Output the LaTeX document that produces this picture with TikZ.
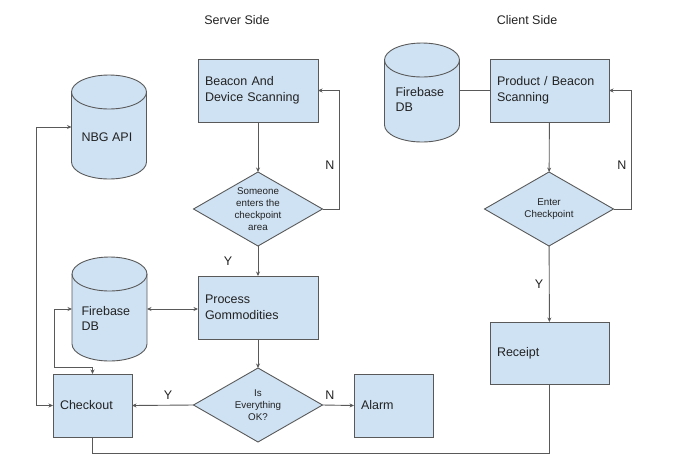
\documentclass[tikz,border=0pt]{standalone}
\usepackage{fontspec}
\setmainfont{Liberation Sans}
\usetikzlibrary{shapes.geometric,arrows.meta}
\definecolor{boxfill}{HTML}{CFE2F3}
\definecolor{edge}{HTML}{595959}
\definecolor{ink}{HTML}{222222}

\tikzset{
  stepbox/.style={draw=edge, fill=boxfill, line width=0.9pt, inner sep=7pt, outer sep=0pt,
    text width=#1, align=left, minimum height=63pt, text=ink,
    font=\fontsize{12.5}{16}\selectfont},
  decision/.style={diamond, draw=edge, fill=boxfill, line width=0.9pt, aspect=1.74,
    inner sep=0pt, outer sep=0pt, minimum width=129pt, minimum height=74pt,
    align=center, text=ink, font=\fontsize{9.8}{12.2}\selectfont},
  dbspot/.style={inner sep=0pt, outer sep=0pt, minimum width=75pt, minimum height=#1},
  dbline/.style={draw=edge, fill=boxfill, line width=0.9pt},
  tag/.style={text=ink, align=left, font=\fontsize{12.5}{15.5}\selectfont},
  >={Stealth[length=4.5pt,width=4pt]},
  flow/.style={draw=edge, line width=0.9pt, ->},
  twoway/.style={draw=edge, line width=0.9pt, <->},
  link/.style={draw=edge, line width=0.9pt}
}

% cylinder drawn round a named spot: name, x radius, y radius
\newcommand{\dbdrum}[3]{%
  \filldraw[dbline] ([yshift=-#3pt]#1.north west) -- ([yshift=#3pt]#1.south west)
    arc[start angle=180, end angle=360, x radius=#2pt, y radius=#3pt]
    -- ([yshift=-#3pt]#1.north east)
    arc[start angle=0, end angle=180, x radius=#2pt, y radius=#3pt] -- cycle;
  \draw[dbline, fill=none] ([yshift=-#3pt]#1.north west)
    arc[start angle=180, end angle=360, x radius=#2pt, y radius=#3pt];
}

\begin{document}
\begin{tikzpicture}[x=1pt, y=-1pt]
  \useasboundingbox (0,0) rectangle (678,475);

  % titles
  \node[tag] (server) at (237,20) {Server Side};
  \node[tag] (client) at (527,20) {Client Side};

  % databases
  \node[dbspot=104pt] (nbg) at (109,127) {};
  \node[dbspot=104pt] (fbleft) at (109.5,309) {};
  \node[dbspot=99pt] (fbright) at (422,92.5) {};
  \dbdrum{nbg}{37.5}{17}
  \dbdrum{fbleft}{37.5}{17}
  \dbdrum{fbright}{37.5}{17}
  \node[tag, anchor=west] (nbgtext) at (78,137) {NBG API};
  \node[tag, anchor=west] (fbleftext) at (78,318.5) {Firebase\\DB};
  \node[tag, anchor=west] (fbrighttext) at (392,99.5) {Firebase\\DB};

  % server side
  \node[stepbox=106pt] (beacon) at (258,90.5) {Beacon And\\Device Scanning};
  \node[decision] (someone) at (258,209) {Someone\\enters the\\checkpoint\\area};
  \node[stepbox=106pt] (process) at (258,307.5) {Process\\Gommodities};
  \node[decision] (okcheck) at (258,405) {Is\\Everything\\OK?};
  \node[stepbox=65pt] (checkout) at (92.5,405.5) {Checkout};
  \node[stepbox=65pt] (alarm) at (393.5,405.5) {Alarm};

  % client side
  \node[stepbox=105pt] (product) at (549.5,90.5) {Product / Beacon\\Scanning};
  \node[decision] (enter) at (549,209) {Enter\\Checkpoint};
  \node[stepbox=105pt, minimum height=62pt] (receipt) at (549.5,353) {Receipt};

  % connectors
  \draw[flow] (beacon) -- (someone);
  \draw[flow] (someone.east) -- ++(17,0) |- (beacon.east);
  \draw[flow] (someone) -- (process);
  \draw[flow] (process) -- (okcheck);
  \draw[flow] (okcheck.west) -- (checkout.east);
  \draw[flow] (okcheck.east) -- (alarm.west);
  \draw[twoway] (fbleft.east) -- (fbleft.east -| process.west);
  \draw[twoway] (fbleft.west) -- ++(-18,0) |- ([yshift=7pt]checkout.north) -- (checkout.north);
  \draw[twoway] (checkout.west) -- ++(-17,0) |- (nbg.west);
  \draw[link] (checkout.south) -- ++(0,16) -| (receipt.south);

  \draw[link] (product.west) -- (product.west -| fbright.east);
  \draw[flow] (product) -- (enter);
  \draw[flow] (enter.east) -- ++(18,0) |- (product.east);
  \draw[flow] (enter) -- (receipt);

  % branch marks
  \node[tag] (nbeacon) at (330,165) {N};
  \node[tag] (yprocess) at (228,261) {Y};
  \node[tag] (ycheckout) at (168,395) {Y};
  \node[tag] (nalarm) at (330,395) {N};
  \node[tag] (nproduct) at (622,165) {N};
  \node[tag] (yreceipt) at (539,284) {Y};
\end{tikzpicture}
\end{document}
